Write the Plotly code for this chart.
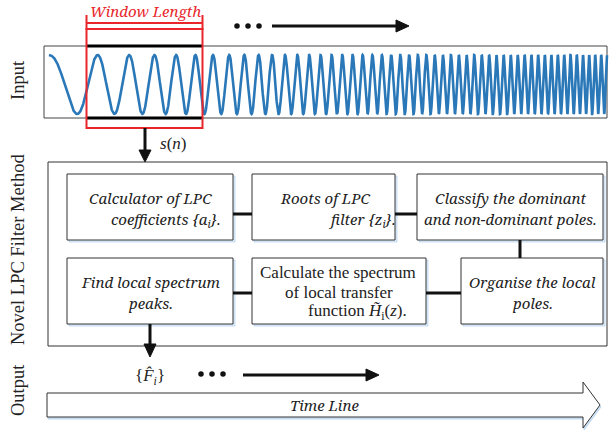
import numpy as np
import plotly.graph_objects as go

# ---- content ----
row_labels = ["Input", "Novel LPC Filter Method", "Output"]
window_label = "Window Length"
signal_label = "<i>s</i>(<i>n</i>)"
output_label = "{<i>F&#770;</i><sub><i>i</i></sub>}"
timeline_label = "Time Line"

box_texts = [
    ["Calculator of LPC", "coefficients {<i>a</i><sub>i</sub>}."],
    ["Roots of LPC", "filter {<i>z</i><sub>i</sub>}."],
    ["Classify the dominant", "and non-dominant poles."],
    ["Find local spectrum", "peaks."],
    ["Calculate the spectrum", "of local transfer", "function <i>H&#771;</i><sub>i</sub>(<i>z</i>)."],
    ["Organise the local", "poles."],
]
box_italic = [True, True, True, True, False, True]

# chirp signal description (cycles per pixel start, sweep rate)
chirp_f0 = 0.0138
chirp_rate = 0.000139 * 2
chirp_x0, chirp_x1 = 49, 607

# ---- geometry ----
W, H = 609, 435
FONT = "Liberation Serif"
IFONT = "Noto Serif"
fig = go.Figure()

# chirp
xs = np.linspace(chirp_x0, chirp_x1, 4000)
u = xs - chirp_x0
phase = 2 * np.pi * (chirp_f0 * u + chirp_rate / 2 * u ** 2)
ys = 84.5 - 29.5 * np.cos(phase)
fig.add_trace(go.Scatter(x=xs, y=ys, mode="lines",
                         line=dict(color="#2a78b8", width=2.6),
                         hoverinfo="skip", showlegend=False))

# dots
for yy, xd in [(26, [237, 248, 259]), (374, [201, 212, 223])]:
    fig.add_trace(go.Scatter(x=xd, y=[yy] * 3, mode="markers",
                             marker=dict(color="#111", size=5.5),
                             hoverinfo="skip", showlegend=False))

shapes = []

def rect(x0, y0, x1, y1, color="#333", width=1, fill=None, layer="above"):
    shapes.append(dict(type="rect", x0=x0, y0=y0, x1=x1, y1=y1, xref="x", yref="y",
                       line=dict(color=color, width=width),
                       fillcolor=fill if fill else "rgba(0,0,0,0)", layer=layer))

def line(x0, y0, x1, y1, color="#111", width=3):
    shapes.append(dict(type="line", x0=x0, y0=y0, x1=x1, y1=y1, xref="x", yref="y",
                       line=dict(color=color, width=width)))

def tri(pts, color="#111"):
    p = "M " + " L ".join(f"{a},{b}" for a, b in pts) + " Z"
    shapes.append(dict(type="path", path=p, xref="x", yref="y",
                       fillcolor=color, line=dict(color=color, width=1)))

# input box
rect(44, 46, 607, 118, color="#444", width=1, layer="below")
line(87, 46, 202, 46, color="#000", width=3)
line(87, 118, 202, 118, color="#000", width=3)
# window
RED = "#e8262b"
rect(86.5, 29, 202.5, 128, color=RED, width=2)
line(86.5, 23, 202.5, 23, color=RED, width=2)
line(86.5, 15, 86.5, 30, color=RED, width=2)
line(202.5, 15, 202.5, 30, color=RED, width=2)

# top progress arrow
line(272, 26, 398, 26, width=3)
tri([(396, 20), (409, 26), (396, 32)])

# s(n) arrow
line(145, 128, 145, 152, width=3)
tri([(139, 150), (151, 150), (145, 162)])

# big method box
rect(48, 162, 607, 346, color="#333", width=1)

# small boxes
boxes = [(67, 174, 233, 240), (252, 174, 395, 240), (417, 174, 603, 240),
         (67, 258, 233, 324), (252, 258, 426, 324), (461, 258, 603, 324)]
for (x0, y0, x1, y1) in boxes:
    rect(x0 + 2, y0 + 2, x1 + 2, y1 + 2, color="rgba(170,205,235,0.6)", width=1,
         fill="rgba(200,225,245,0.6)")
    rect(x0, y0, x1, y1, color="#333", width=1, fill="white")

# connectors
line(233, 214, 252, 214)
line(395, 214, 417, 214)
line(520, 240, 520, 258)
line(426, 293, 461, 293)
line(233, 293, 252, 293)

# output arrow
line(150, 324, 150, 347, width=3)
tri([(144, 344), (156, 344), (150, 357)])

# bottom progress arrow
line(243, 375, 368, 375, width=3)
tri([(366, 369), (379, 375), (366, 381)])

# timeline arrow
tl = [(47, 393), (583, 393), (583, 382), (600, 405), (583, 428), (583, 417), (47, 417)]
shadow = "M " + " L ".join(f"{a + 1},{b + 2}" for a, b in tl) + " Z"
shapes.append(dict(type="path", path=shadow, xref="x", yref="y",
                   fillcolor="rgba(190,215,240,0.7)", line=dict(color="rgba(170,205,235,0.7)", width=1)))
path = "M " + " L ".join(f"{a},{b}" for a, b in tl) + " Z"
shapes.append(dict(type="path", path=path, xref="x", yref="y",
                   fillcolor="white", line=dict(color="#333", width=1)))

ann = []

def text(x, y, s, size=15, color="#222", angle=0, italic=False, family=FONT):
    if italic:
        s = "<i>" + s + "</i>"
    ann.append(dict(x=x, y=y, xref="x", yref="y", text=s, showarrow=False,
                    font=dict(family=family, size=size, color=color),
                    textangle=angle, xanchor="center", yanchor="middle"))

text(18, 80, row_labels[0], size=18.5, angle=-90)
text(18, 250, row_labels[1], size=18.5, angle=-90)
text(18, 390, row_labels[2], size=18.5, angle=-90)

text(145, 11, window_label, size=15, color=RED, italic=True, family=IFONT)
text(173, 143, signal_label, size=17)
text(150, 377, output_label, size=17)
text(324, 405, timeline_label, size=15, italic=True, family=IFONT)

line_pos = [
    [(150, 198), (166, 220)],
    [(325, 198), (362, 220)],
    [(510, 198), (510, 219)],
    [(150, 282), (150, 303)],
    [(338, 272), (339, 292), (357, 312)],
    [(532, 282), (532, 303)],
]
for lines, pos, it in zip(box_texts, line_pos, box_italic):
    for s, (x, y) in zip(lines, pos):
        if it:
            text(x, y, s, size=15, italic=True, family=IFONT)
        else:
            text(x, y, s, size=17)

fig.update_layout(
    width=W, height=H, margin=dict(l=0, r=0, t=0, b=0),
    paper_bgcolor="white", plot_bgcolor="white",
    xaxis=dict(range=[0, W], visible=False, fixedrange=True),
    yaxis=dict(range=[H, 0], visible=False, fixedrange=True),
    shapes=shapes, annotations=ann, showlegend=False,
)
fig.write_html("out.html", config={"displayModeBar": False},
               post_script="document.body.style.margin='0';document.body.style.overflow='hidden';")
